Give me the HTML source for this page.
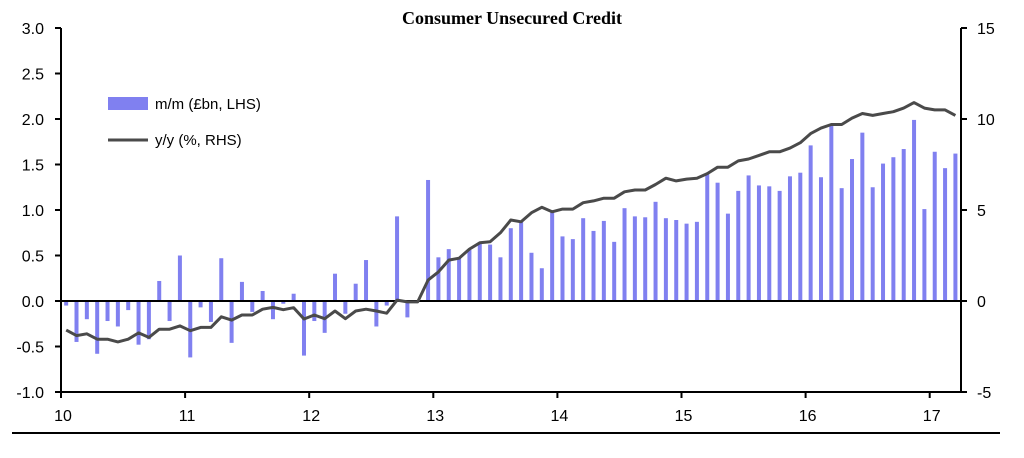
<!DOCTYPE html>
<html><head><meta charset="utf-8"><style>
body{margin:0;background:#fff}
svg{display:block}
text{font-family:"Liberation Sans",sans-serif;font-size:16px;fill:#000}
</style></head><body>
<svg id="chart" width="1024" height="458">
<text x="512" y="24" text-anchor="middle" style="font-family:'Liberation Serif',serif;font-weight:bold;font-size:18px">Consumer Unsecured Credit</text>
<g id="bars"></g>
<g id="axes"></g>
<polyline id="line" fill="none" stroke="#4a4a4a" stroke-width="3" stroke-linejoin="round"/>
<g>
<rect x="108" y="97" width="40" height="13" fill="#8080f0"/>
<text x="155" y="109" style="font-size:15px">m/m (£bn, LHS)</text>
<line x1="108" y1="140" x2="148" y2="140" stroke="#4a4a4a" stroke-width="3"/>
<text x="155" y="145" style="font-size:15px">y/y (%, RHS)</text>
</g>
<line x1="12" y1="433" x2="1000" y2="433" stroke="#000" stroke-width="2"/>
</svg>
<script>
const yearLabels=["10","11","12","13","14","15","16","17"];
const leftTicks=[-1.0,-0.5,0.0,0.5,1.0,1.5,2.0,2.5,3.0];
const rightTicks=[-5,0,5,10,15];
const mmValues=[-0.05,-0.45,-0.2,-0.58,-0.22,-0.28,-0.1,-0.48,-0.42,0.22,-0.22,0.5,-0.62,-0.07,-0.23,0.47,-0.46,0.21,-0.12,0.11,-0.2,-0.03,0.08,-0.6,-0.22,-0.35,0.3,-0.14,0.19,0.45,-0.28,-0.05,0.93,-0.18,0,1.33,0.48,0.57,0.47,0.56,0.63,0.62,0.48,0.8,0.87,0.53,0.36,1.0,0.71,0.68,0.91,0.77,0.88,0.65,1.02,0.93,0.92,1.09,0.91,0.89,0.85,0.87,1.4,1.3,0.96,1.21,1.38,1.27,1.26,1.21,1.37,1.41,1.71,1.36,1.93,1.24,1.56,1.85,1.25,1.51,1.58,1.67,1.99,1.01,1.64,1.46,1.62];
const yyValues=[-1.6,-1.9,-1.8,-2.1,-2.1,-2.25,-2.1,-1.75,-2.0,-1.55,-1.55,-1.37,-1.63,-1.45,-1.45,-0.87,-1.05,-0.77,-0.77,-0.45,-0.35,-0.48,-0.37,-0.99,-0.77,-0.97,-0.55,-0.97,-0.55,-0.45,-0.55,-0.67,0.05,-0.05,-0.05,1.15,1.6,2.25,2.35,2.85,3.2,3.25,3.75,4.45,4.35,4.85,5.15,4.9,5.05,5.05,5.4,5.5,5.65,5.65,6.0,6.1,6.1,6.4,6.75,6.6,6.7,6.75,7.0,7.35,7.35,7.7,7.8,8.0,8.2,8.2,8.4,8.7,9.2,9.5,9.7,9.7,10.05,10.3,10.2,10.3,10.4,10.6,10.9,10.6,10.5,10.5,10.2];
const NS="http://www.w3.org/2000/svg";
const L=61,R=961,T=28,B=392;
const yL=v=>B-(v+1)/4*(B-T);
const yR=v=>B-(v+5)/20*(B-T);
const xM=i=>61+(i+0.5)*10.34;
const xY=k=>61+k*124.1;
function mk(tag,parent,attrs){const e=document.createElementNS(NS,tag);for(const k in attrs)e.setAttribute(k,attrs[k]);parent.appendChild(e);return e;}
const bars=document.getElementById('bars'),axes=document.getElementById('axes');
mmValues.forEach((v,i)=>{
 const y0=yL(0),y1=yL(v);
 const r=mk('rect',bars,{x:xM(i)-2,y:Math.min(y0,y1),width:4,height:Math.abs(y1-y0),fill:'#8080f0'});
 
 
});
document.getElementById('line').setAttribute('points',yyValues.map((v,i)=>xM(i).toFixed(1)+','+yR(v).toFixed(1)).join(' '));
let a=mk('line',axes,{x1:L,y1:T,x2:L,y2:B,stroke:'#000','stroke-width':2});

a=mk('line',axes,{x1:R,y1:T,x2:R,y2:B,stroke:'#000','stroke-width':2});

a=mk('line',axes,{x1:L,y1:B,x2:R,y2:B,stroke:'#000','stroke-width':2});

a=mk('line',axes,{x1:L,y1:yL(0),x2:R,y2:yL(0),stroke:'#000','stroke-width':2});

leftTicks.forEach(v=>{
 mk('line',axes,{x1:L-6,y1:yL(v),x2:L,y2:yL(v),stroke:'#000','stroke-width':2});
 const t=mk('text',axes,{x:44,y:yL(v)+6,'text-anchor':'end'});t.textContent=v.toFixed(1);
 
 
});
rightTicks.forEach(v=>{
 mk('line',axes,{x1:R,y1:yR(v),x2:R+6,y2:yR(v),stroke:'#000','stroke-width':2});
 const t=mk('text',axes,{x:977,y:yR(v)+6});t.textContent=v;
 
 
});
yearLabels.forEach((s,k)=>{
 mk('line',axes,{x1:xY(k),y1:B,x2:xY(k),y2:B+6,stroke:'#000','stroke-width':2});
 const t=mk('text',axes,{x:xY(k)+2,y:421,'text-anchor':'middle'});t.textContent=s;
 
 
});
</script>
</body></html>
